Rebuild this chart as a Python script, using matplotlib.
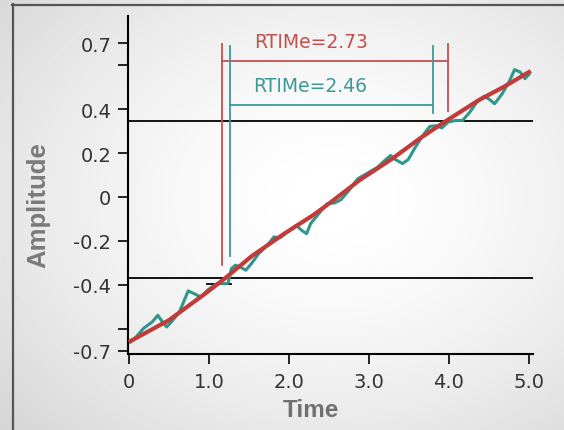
import numpy as np
import matplotlib
matplotlib.use("Agg")
import matplotlib.pyplot as plt

# ---------------- data ----------------
time_teal = [0.02, 0.09, 0.18, 0.29, 0.36, 0.41, 0.47, 0.54, 0.63, 0.74, 0.81, 0.90, 0.99,
             1.10, 1.22, 1.24, 1.28, 1.33, 1.39, 1.46, 1.53, 1.62, 1.73, 1.81, 1.89, 1.98,
             2.09, 2.16, 2.22, 2.27, 2.39, 2.48, 2.57, 2.65, 2.75, 2.86, 2.97, 3.11, 3.20,
             3.27, 3.33, 3.42, 3.49, 3.58, 3.69, 3.76, 3.84, 3.91, 3.99, 4.08, 4.17, 4.26,
             4.35, 4.44, 4.50, 4.57, 4.66, 4.75, 4.82, 4.89, 4.95, 5.00]
amp_teal = [-0.659, -0.636, -0.598, -0.568, -0.538, -0.564, -0.591, -0.564, -0.523, -0.427,
            -0.439, -0.455, -0.421, -0.394, -0.394, -0.390, -0.326, -0.310, -0.318, -0.333,
            -0.303, -0.258, -0.220, -0.182, -0.185, -0.159, -0.129, -0.152, -0.167, -0.121,
            -0.068, -0.030, -0.027, -0.012, 0.030, 0.083, 0.106, 0.136, 0.167, 0.189, 0.170,
            0.152, 0.170, 0.227, 0.288, 0.321, 0.324, 0.314, 0.341, 0.348, 0.348, 0.386,
            0.432, 0.458, 0.445, 0.424, 0.467, 0.523, 0.579, 0.568, 0.538, 0.558]

time_red = [0.02, 0.50, 0.95, 1.19, 1.53, 1.94, 2.30, 2.50, 2.88, 3.29, 3.65, 3.96, 4.37, 4.68, 5.00]
amp_red = [-0.655, -0.560, -0.440, -0.373, -0.270, -0.167, -0.083, -0.030, 0.076, 0.174,
           0.270, 0.345, 0.440, 0.500, 0.568]

upper_level = 0.345
lower_level = -0.368
stub_times = [0.97, 1.27]
stub_level = -0.395

red_times = [1.16, 3.99]
teal_times = [1.265, 3.80]
red_label = "RTIMe=2.73"
teal_label = "RTIMe=2.46"

ytick_vals = [0.7, 0.6, 0.4, 0.2, 0.0, -0.2, -0.4, -0.6, -0.7]
ytick_labels = ["0.7", "", "0.4", "0.2", "0", "-0.2", "-0.4", "", "-0.7"]
xtick_vals = [0, 1, 2, 3, 4, 5]
xtick_labels = ["0", "1.0", "2.0", "3.0", "4.0", "5.0"]

RED = "#c23a3a"
TEAL = "#2f968c"
RED_ANN = "#c4504e"
TEAL_ANN = "#3b9a98"

# ---------------- figure ----------------
W, H = 564, 431
fig = plt.figure(figsize=(W / 100, H / 100), dpi=100)

bg = fig.add_axes([0, 0, 1, 1], zorder=-10)
yy, xx = np.mgrid[0:H, 0:W]
cx, cy = 330, 200
r = np.sqrt(((xx - cx) / W) ** 2 + ((yy - cy) / H) ** 2)
val = 1.0 - 0.17 * np.clip(r / 0.8, 0, 1) ** 1.6
bg.imshow(val, cmap="gray", vmin=0, vmax=1, extent=[0, W, H, 0], aspect="auto",
          interpolation="bilinear")
bg.plot([12, W], [5.5, 5.5], color="#555555", lw=1.6)
bg.plot([12.5, 12.5], [5, H], color="#555555", lw=1.6)
bg.set_xlim(0, W)
bg.set_ylim(H, 0)
bg.axis("off")

ax = fig.add_axes([128 / W, 1 - 355 / H, (533 - 128) / W, (355 - 17) / H])
ax.patch.set_alpha(0)
ax.set_xlim(-0.0125, 5.05)
ax.set_ylim(-0.714, 0.823)

for s in ["top", "right"]:
    ax.spines[s].set_visible(False)
for s in ["left", "bottom"]:
    ax.spines[s].set_linewidth(1.5)
    ax.spines[s].set_color("black")

ax.set_xticks(xtick_vals)
ax.set_xticklabels(xtick_labels)
ax.set_yticks(ytick_vals)
ax.set_yticklabels(ytick_labels)
ax.tick_params(direction="out", length=7, width=1.2, color="black",
               labelsize=14, labelcolor="#333333")
ax.tick_params(axis="x", pad=6)
ax.tick_params(axis="y", pad=5)

# threshold lines
ax.axhline(upper_level, color="black", lw=1.3, zorder=2)
ax.axhline(lower_level, color="black", lw=1.3, zorder=2)
ax.plot(stub_times, [stub_level, stub_level], color="black", lw=1.3, zorder=2)

# data
ax.plot(time_teal, amp_teal, color=TEAL, lw=2.2, zorder=3, solid_joinstyle="round")
ax.plot(time_red, amp_red, color=RED, lw=3.0, zorder=4, solid_joinstyle="round")

# rise-time annotations
ax.plot([red_times[0], red_times[0]], [0.695, -0.31], color=RED_ANN, lw=1.3, zorder=5)
ax.plot([red_times[1], red_times[1]], [0.695, 0.39], color=RED_ANN, lw=1.3, zorder=5)
ax.plot(red_times, [0.618, 0.618], color=RED_ANN, lw=1.3, zorder=5)
ax.plot([teal_times[0], teal_times[0]], [0.686, -0.27], color=TEAL_ANN, lw=1.3, zorder=5)
ax.plot([teal_times[1], teal_times[1]], [0.686, 0.38], color=TEAL_ANN, lw=1.3, zorder=5)
ax.plot(teal_times, [0.418, 0.418], color=TEAL_ANN, lw=1.3, zorder=5)

ax.text(1.56, 0.709, red_label, color=RED_ANN, fontsize=13.5, ha="left", va="center")
ax.text(1.55, 0.509, teal_label, color=TEAL_ANN, fontsize=13.5, ha="left", va="center")

fig.text(311 / W, 1 - 411 / H, "Time", ha="center", va="center", fontsize=17.5,
         fontweight="bold", color="#707070", family="Liberation Sans")
fig.text(38 / W, 1 - 205 / H, "Amplitude", ha="center", va="center", rotation=90,
         fontsize=18.5, fontweight="bold", color="#7a7a7a", family="Liberation Sans")

fig.savefig("out.png", dpi=100)
